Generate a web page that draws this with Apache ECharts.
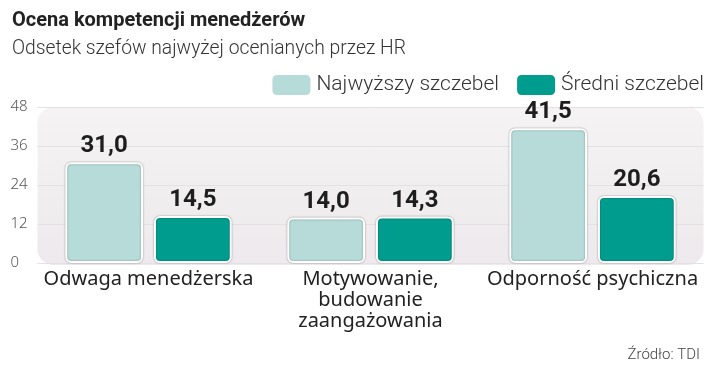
<!DOCTYPE html>
<html><head><meta charset="utf-8">
<script src="https://cdn.jsdelivr.net/npm/echarts@6/dist/echarts.min.js"></script>
<style>html,body{margin:0;padding:0;background:#fff}#c{width:720px;height:373px}</style>
</head><body><div id="c"></div>
<script>
const categories = ['Odwaga menedżerska', 'Motywowanie,\nbudowanie\nzaangażowania', 'Odporność psychiczna'];
const seriesNames = ['Najwyższy szczebel', 'Średni szczebel'];
const topLevel = [31.0, 14.0, 41.5];
const midLevel = [14.5, 14.3, 20.6];
const yTicks = [0, 12, 24, 36, 48];

const chart = echarts.init(document.getElementById('c'), null, {renderer: 'canvas'});
const fmt = p => p.value.toFixed(1).replace('.', ',');
const barStyle = (color) => ({
  color: color, borderColor: '#ffffff', borderWidth: 2, borderRadius: 5,
  shadowColor: 'rgba(0,0,0,0.35)', shadowBlur: 2
});
const labelStyle = {
  show: true, position: 'top', distance: 4, formatter: fmt,
  fontFamily: 'Roboto', fontWeight: 'bold', fontSize: 24, color: '#1e1e1e'
};
chart.setOption({
  animation: false,
  title: [
    {text: 'Ocena kompetencji menedżerów', left: 7, top: 6,
     textStyle: {fontFamily: 'Roboto', fontWeight: 'bold', fontSize: 20, color: '#222'}},
    {text: 'Odsetek szefów najwyżej ocenianych przez HR', left: 7, top: 35,
     textStyle: {fontFamily: 'Roboto', fontWeight: 300, fontSize: 19.3, color: '#333'}},
    {text: 'Źródło: TDI', right: 15, top: 343,
     textStyle: {fontFamily: 'Roboto', fontWeight: 300, fontSize: 15, color: '#444'}}
  ],
  legend: {
    data: seriesNames, right: 11, top: 68, itemWidth: 40, itemHeight: 22, itemGap: 16,
    icon: 'roundRect',
    textStyle: {fontFamily: 'Roboto', fontWeight: 300, fontSize: 21, color: '#333'}
  },
  grid: {left: 37.5, right: 16.5, top: 107, bottom: 110},
  xAxis: {
    type: 'category', data: categories,
    axisLine: {show: false}, axisTick: {show: false},
    axisLabel: {interval: 0, fontFamily: 'Noto Sans', fontSize: 20, color: '#222', lineHeight: 21, margin: 6}
  },
  yAxis: {
    type: 'value', min: yTicks[0], max: yTicks[yTicks.length-1], interval: 12,
    axisLabel: {fontFamily: 'Noto Sans', fontSize: 15, color: '#555', align: 'left', margin: 27, fontWeight: 300},
    splitLine: {show: true, lineStyle: {color: '#e4e0e3', width: 1}},
    axisLine: {show: false}, axisTick: {show: false}
  },
  series: [
    {name: seriesNames[0], type: 'bar', data: topLevel, barGap: '14%', barCategoryGap: '25%',
     itemStyle: barStyle('#b6dbd8'), label: labelStyle},
    {name: seriesNames[1], type: 'bar', data: midLevel,
     itemStyle: barStyle('#009d8f'), label: labelStyle}
  ]
});
const gridRect = chart.getModel().getComponent('grid', 0).coordinateSystem.getRect();
chart.setOption({
  graphic: [{
    type: 'rect', z: -10, silent: true,
    shape: {x: gridRect.x, y: gridRect.y, width: gridRect.width, height: gridRect.height + 2, r: 16},
    style: {fill: new echarts.graphic.LinearGradient(0, 0, 0, 1, [{offset: 0, color: '#f5f3f4'}, {offset: 1, color: '#ede9ec'}])}
  }]
});
</script></body></html>
